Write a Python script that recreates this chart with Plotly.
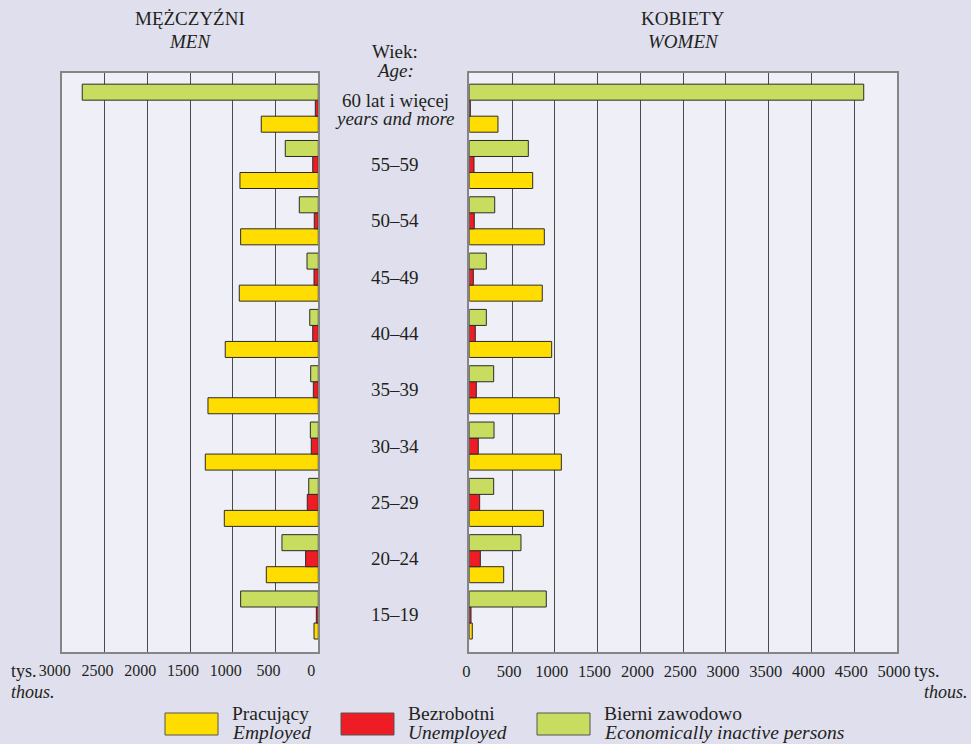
import plotly.graph_objects as go

# grupy wieku (od dołu do góry)
wiek = ["15–19", "20–24", "25–29", "30–34", "35–39", "40–44", "45–49", "50–54", "55–59", "60 lat i więcej"]
wiek_en_ostatni = "years and more"

# tys. osób
m_pracujacy = [50, 608, 1099, 1321, 1290, 1088, 924, 908, 916, 667]
m_bezrobotni = [23, 148, 129, 82, 58, 65, 50, 47, 65, 35]
m_bierni = [908, 425, 112, 93, 89, 100, 132, 222, 386, 2760]

k_pracujacy = [35, 402, 866, 1076, 1052, 963, 853, 877, 741, 335]
k_bezrobotni = [20, 129, 121, 105, 82, 70, 47, 58, 55, 12]
k_bierni = [900, 604, 285, 289, 285, 199, 199, 297, 690, 4611]

ticki_m = [0, 500, 1000, 1500, 2000, 2500, 3000]
ticki_k = [0, 500, 1000, 1500, 2000, 2500, 3000, 3500, 4000, 4500, 5000]

kategorie_pl = ["Pracujący", "Bezrobotni", "Bierni zawodowo"]
kategorie_en = ["Employed", "Unemployed", "Economically inactive persons"]
kolory = ["#FFDD00", "#EE1C25", "#C8DC5F"]

W, H = 971, 744
FONT = "Liberation Serif, Times New Roman, serif"
TXT = "#231F20"
TLO = '#DFDFEE'


def px_y(y):
    return 1 - y / H


def px_x(x):
    return x / W


pozycje = list(range(len(wiek)))

fig = go.Figure()

for wartosci, kolor, nazwa in zip([m_pracujacy, m_bezrobotni, m_bierni], kolory, kategorie_pl):
    fig.add_trace(go.Bar(y=pozycje, x=wartosci, orientation='h', name=nazwa,
                         marker=dict(color=kolor, line=dict(color='#2b2b2b', width=1)),
                         xaxis='x', yaxis='y', showlegend=False))

for wartosci, kolor, nazwa in zip([k_pracujacy, k_bezrobotni, k_bierni], kolory, kategorie_pl):
    fig.add_trace(go.Bar(y=pozycje, x=wartosci, orientation='h', name=nazwa,
                         marker=dict(color=kolor, line=dict(color='#2b2b2b', width=1)),
                         xaxis='x2', yaxis='y2', showlegend=False))

yrange = [-0.657, 9.630]
ydom = [px_y(652), px_y(72.7)]

wspolne_x = dict(showgrid=True, gridcolor='#4a4a4a', gridwidth=1, zeroline=False,
                 showline=True, linecolor='#858585', linewidth=2, mirror=True,
                 ticks='', fixedrange=True, automargin=False, ticklabelstandoff=3)
wspolne_y = dict(range=yrange, domain=ydom, showticklabels=False, showgrid=False,
                 zeroline=False, showline=True, linecolor='#858585', linewidth=2,
                 mirror=True, ticks='', fixedrange=True, automargin=False)

fig.update_layout(
    width=W, height=H,
    margin=dict(l=0, r=0, t=0, b=0, autoexpand=False),
    paper_bgcolor=TLO,
    plot_bgcolor='#EFEFF7',
    barmode='group', bargap=0.147, bargroupgap=0,
    xaxis=dict(wspolne_x, range=[3000, 0], domain=[px_x(61.7), px_x(318.3)],
               tickvals=ticki_m, anchor='y', ticklabelshift=7,
               tickfont=dict(family=FONT, size=16, color=TXT)),
    xaxis2=dict(wspolne_x, range=[0, 5000], domain=[px_x(469.3), px_x(897)],
                tickvals=ticki_k, anchor='y2', ticklabelshift=-3,
                tickfont=dict(family=FONT, size=16.5, color=TXT)),
    yaxis=dict(wspolne_y, anchor='x'),
    yaxis2=dict(wspolne_y, anchor='x2'),
)

adnotacje = []


def napis(tekst, x, y, size=19, italic=False, xanchor='center', **kw):
    if italic:
        tekst = f"<i>{tekst}</i>"
    d = dict(text=tekst, x=x, y=y, xref=kw.pop('xref', 'paper'), yref=kw.pop('yref', 'paper'),
             xanchor=xanchor, yanchor='middle', showarrow=False,
             font=dict(family=FONT, size=size, color=TXT))
    d.update(kw)
    adnotacje.append(d)


xs = px_x(395)
# tytuły paneli
napis("MĘŻCZYŹNI", px_x(190), px_y(19))
napis("MEN", px_x(190), px_y(41.5), italic=True)
napis("KOBIETY", px_x(683), px_y(19))
napis("WOMEN", px_x(683), px_y(41.5), italic=True)
napis("Wiek:", xs, px_y(52))
napis("Age:", xs, px_y(70), italic=True)

# etykiety wieku
for i, w in enumerate(wiek):
    if i == len(wiek) - 1:
        napis(w, xs, i, yref='y', yshift=8)
        napis(wiek_en_ostatni, xs, i, yref='y', yshift=-10, italic=True)
    else:
        napis(w, xs, i, yref='y')

# jednostki
napis("tys.", px_x(9), px_y(671), size=18, xanchor='left')
napis("thous.", px_x(9), px_y(692), size=18, xanchor='left', italic=True)
napis("tys.", px_x(912), px_y(671), size=18, xanchor='left')
napis("thous.", px_x(970), px_y(692), size=18, xanchor='right', italic=True)

# legenda
ksztalty = []
lewe = [165, 341, 537]
for lx, kolor, pl, en in zip(lewe, kolory, kategorie_pl, kategorie_en):
    ksztalty.append(dict(type='rect', xref='paper', yref='paper',
                         x0=px_x(lx), x1=px_x(lx + 53), y0=px_y(735), y1=px_y(713),
                         fillcolor=kolor, line=dict(color='#555555', width=1)))
    napis(pl, px_x(lx + 65), px_y(713.5), size=19.5, xanchor='left')
    napis(en, px_x(lx + 65), px_y(732), size=19.5, xanchor='left', italic=True)

fig.update_layout(annotations=adnotacje, shapes=ksztalty)

fig.write_html("out.html", config={'displayModeBar': False},
               post_script=f"document.body.style.margin='0';document.body.style.background='{TLO}';")
